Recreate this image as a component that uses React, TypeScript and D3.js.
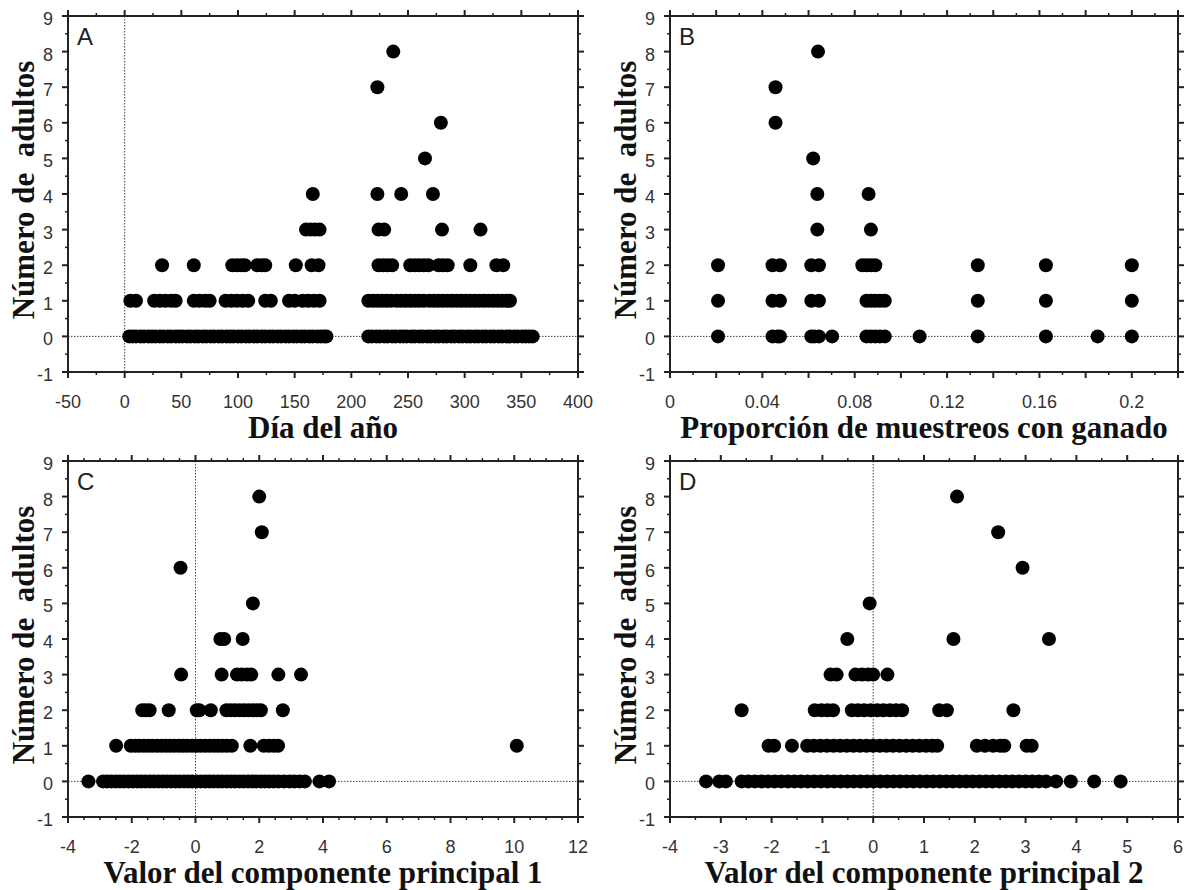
import React from 'react';
import { scaleLinear, range } from 'd3';

// Número de adultos: índice de la fila = número de adultos (0..8)
const diaDelAno: number[][] = [
  [4, 7, 10, 14, 17, 21, 24, 27, 31, 34, 38, 41, 45, 48, 51, 55, 58, 62, 65, 69, 72, 76, 79, 83, 86, 90, 93, 96, 100, 103,
    107, 110, 114, 117, 121, 124, 128, 131, 135, 138, 142, 145, 149, 152, 156, 159, 163, 166, 170, 173, 176, 178,
    215, 218, 222, 225, 229, 232, 236, 239, 243, 246, 249, 253, 256, 260, 263, 267, 270, 274, 277, 281, 284, 288, 291,
    295, 298, 302, 305, 309, 312, 316, 319, 323, 326, 330, 333, 337, 340, 344, 347, 351, 354, 357, 360],
  [5, 10, 26, 31, 36, 41, 45, 61, 66, 71, 75, 89, 94, 99, 104, 109, 124, 129, 145, 150, 157, 162, 167, 172,
    215, 219, 223, 227, 231, 235, 240, 244, 248, 252, 256, 260, 264, 269, 273, 277, 281, 285, 289, 293, 297, 301,
    305, 309, 313, 317, 321, 325, 329, 333, 337, 340],
  [33, 61, 95, 99, 103, 106, 117, 121, 124, 151, 165, 171, 224, 228, 232, 236, 252, 256, 260, 264, 268,
    277, 281, 285, 305, 328, 334],
  [160, 164, 168, 172, 224, 229, 280, 314],
  [166, 223, 244, 272],
  [265],
  [279],
  [223],
  [237],
];

const proporcionGanado: number[][] = [
  [0.0208, 0.0444, 0.0465, 0.0476, 0.0612, 0.0625, 0.0645, 0.0702, 0.0851, 0.087, 0.0889, 0.0909, 0.093,
    0.1081, 0.1333, 0.1628, 0.1852, 0.2],
  [0.0208, 0.0444, 0.0476, 0.0612, 0.0645, 0.0851, 0.087, 0.0889, 0.0909, 0.093, 0.1333, 0.1628, 0.2],
  [0.0208, 0.0444, 0.0476, 0.0612, 0.0645, 0.0833, 0.0851, 0.087, 0.0889, 0.1333, 0.1628, 0.2],
  [0.0638, 0.087],
  [0.0638, 0.086],
  [0.062],
  [0.0457],
  [0.0457],
  [0.0641],
];

const componente1: number[][] = [
  [-3.36, -2.9, -2.77, -2.64, -2.5, -2.37, -2.24, -2.1, -1.97, -1.83, -1.7, -1.57, -1.43, -1.3, -1.16, -1.03,
    -0.9, -0.76, -0.63, -0.5, -0.36, -0.23, -0.1, 0.04, 0.17, 0.31, 0.44, 0.57, 0.71, 0.84, 0.98, 1.11, 1.24,
    1.38, 1.51, 1.65, 1.78, 1.91, 2.05, 2.18, 2.31, 2.45, 2.6, 2.78, 2.95, 3.1, 3.26, 3.43, 3.89, 4.19],
  [-2.49, -2.03, -1.89, -1.76, -1.62, -1.48, -1.35, -1.21, -1.07, -0.93, -0.8, -0.66, -0.52, -0.39, -0.25,
    -0.11, 0.03, 0.16, 0.3, 0.44, 0.58, 0.71, 0.85, 0.99, 1.14, 1.72, 2.14, 2.3, 2.45, 2.59, 10.08],
  [-1.67, -1.56, -1.44, -0.84, 0.04, 0.12, 0.48, 0.97, 1.1, 1.24, 1.38, 1.52, 1.66, 1.8, 1.93, 2.05, 2.74],
  [-0.45, 0.82, 1.3, 1.45, 1.62, 1.75, 2.6, 3.31],
  [0.78, 0.9, 1.48],
  [1.8],
  [-0.47],
  [2.08],
  [2.0],
];

const componente2: number[][] = [
  [-3.29, -3.03, -2.9, -2.59, -2.46, -2.33, -2.2, -2.07, -1.94, -1.81, -1.68, -1.55, -1.42, -1.29, -1.16, -1.03,
    -0.9, -0.77, -0.64, -0.51, -0.38, -0.25, -0.12, 0.01, 0.14, 0.27, 0.4, 0.53, 0.66, 0.79, 0.92, 1.05, 1.18,
    1.31, 1.44, 1.57, 1.7, 1.83, 1.96, 2.09, 2.22, 2.35, 2.48, 2.61, 2.74, 2.87, 3.0, 3.13, 3.26, 3.4, 3.6,
    3.89, 4.35, 4.87],
  [-2.06, -1.95, -1.6, -1.3, -1.17, -1.04, -0.91, -0.78, -0.65, -0.52, -0.39, -0.26, -0.13, 0.0, 0.13, 0.26,
    0.39, 0.52, 0.65, 0.78, 0.91, 1.04, 1.16, 1.26, 2.04, 2.2, 2.36, 2.5, 2.58, 3.02, 3.12],
  [-2.59, -1.15, -1.02, -0.9, -0.79, -0.42, -0.3, -0.18, -0.05, 0.08, 0.2, 0.33, 0.45, 0.57, 1.3, 1.45, 2.76],
  [-0.84, -0.72, -0.35, -0.22, -0.1, 0.0, 0.28],
  [-0.51, 1.58, 3.46],
  [-0.07],
  [2.94],
  [2.46],
  [1.65],
];

const yTickLabels = [-1, 0, 1, 2, 3, 4, 5, 6, 7, 8, 9];
const diaTicks = [-50, 0, 50, 100, 150, 200, 250, 300, 350, 400];
const propTicks = [0, 0.04, 0.08, 0.12, 0.16, 0.2];
const comp1Ticks = [-4, -2, 0, 2, 4, 6, 8, 10, 12];
const comp2Ticks = [-4, -3, -2, -1, 0, 1, 2, 3, 4, 5, 6];

const yTitle = 'Número de  adultos';
const sans = '"Liberation Sans", Arial, Helvetica, sans-serif';
const serif = '"Liberation Serif", "Times New Roman", Times, serif';

type Box = { left: number; right: number; top: number; bottom: number };

const Panel = ({ rows, domain, box, labels, major, minor, title, letter, zeroV }: {
  rows: number[][]; domain: [number, number]; box: Box; labels: number[];
  major: number[]; minor: number[]; title: string; letter: string; zeroV: boolean;
}) => {
  const x = scaleLinear().domain(domain).range([box.left, box.right]);
  const y = scaleLinear().domain([-1, 9]).range([box.bottom, box.top]);
  const yMajor = range(-1, 9.01, 1);
  const yMinor = range(-0.5, 9, 1);
  const pts = rows.flatMap((xs, k) => xs.map((v) => ({ v, k })));
  const cx = (box.left + box.right) / 2;
  const cy = (box.top + box.bottom) / 2;
  const tick = '#222';
  return (
    <g>
      {zeroV && (
        <line x1={x(0)} x2={x(0)} y1={box.top} y2={box.bottom}
          stroke="#444" strokeWidth={1} strokeDasharray="1.5 1.5" />
      )}
      <line x1={box.left} x2={box.right} y1={y(0)} y2={y(0)}
        stroke="#444" strokeWidth={1} strokeDasharray="1.5 1.5" />
      {pts.map((d, i) => (
        <circle key={i} cx={x(d.v)} cy={y(d.k)} r={7} fill="#000" />
      ))}
      <rect x={box.left} y={box.top} width={box.right - box.left} height={box.bottom - box.top}
        fill="none" stroke={tick} strokeWidth={2} />
      {yMajor.map((t) => (
        <g key={'ym' + t}>
          <line x1={box.left - 6} x2={box.left} y1={y(t)} y2={y(t)} stroke={tick} strokeWidth={2} />
          <line x1={box.right} x2={box.right + 6} y1={y(t)} y2={y(t)} stroke={tick} strokeWidth={2} />
        </g>
      ))}
      {yMinor.map((t) => (
        <g key={'yn' + t}>
          <line x1={box.left - 3} x2={box.left} y1={y(t)} y2={y(t)} stroke={tick} strokeWidth={1.5} />
          <line x1={box.right} x2={box.right + 3} y1={y(t)} y2={y(t)} stroke={tick} strokeWidth={1.5} />
        </g>
      ))}
      {major.map((t) => (
        <g key={'xm' + t}>
          <line x1={x(t)} x2={x(t)} y1={box.top - 6} y2={box.top} stroke={tick} strokeWidth={2} />
          <line x1={x(t)} x2={x(t)} y1={box.bottom} y2={box.bottom + 6} stroke={tick} strokeWidth={2} />
        </g>
      ))}
      {minor.map((t) => (
        <g key={'xn' + t}>
          <line x1={x(t)} x2={x(t)} y1={box.top - 3} y2={box.top} stroke={tick} strokeWidth={1.5} />
          <line x1={x(t)} x2={x(t)} y1={box.bottom} y2={box.bottom + 3} stroke={tick} strokeWidth={1.5} />
        </g>
      ))}
      {yTickLabels.map((t) => (
        <text key={'yl' + t} x={box.left - 15} y={y(t) + 9} textAnchor="end"
          fontFamily={sans} fontSize={18} fill="#333">{t}</text>
      ))}
      {labels.map((t) => (
        <text key={'xl' + t} x={x(t)} y={box.bottom + 36} textAnchor="middle"
          fontFamily={sans} fontSize={18} fill="#333">{String(t)}</text>
      ))}
      <text x={box.left + 9} y={box.top + 29} fontFamily={sans} fontSize={24} fill="#222">{letter}</text>
      <text x={cx} y={box.bottom + 66} textAnchor="middle" fontFamily={serif} fontWeight="bold"
        fontSize={31} fill="#111">{title}</text>
      <text transform={`translate(${box.left - 34},${cy - 4}) rotate(-90)`} textAnchor="middle"
        fontFamily={serif} fontWeight="bold" fontSize={31} fill="#111"
        style={{ whiteSpace: 'pre' }}>{yTitle}</text>
    </g>
  );
};

export default function App() {
  const boxA = { left: 68, right: 578, top: 16, bottom: 372 };
  const boxB = { left: 670, right: 1178, top: 16, bottom: 372 };
  const boxC = { left: 68, right: 578, top: 461, bottom: 817 };
  const boxD = { left: 670, right: 1178, top: 461, bottom: 817 };
  return (
    <svg width={1186} height={890} style={{ position: 'absolute', left: 0, top: 0, background: '#fff' }}>
      <Panel rows={diaDelAno} domain={[-50, 400]} box={boxA} labels={diaTicks}
        major={range(-50, 401, 50)} minor={range(-25, 400, 50)}
        title="Día del año" letter="A" zeroV={true} />
      <Panel rows={proporcionGanado} domain={[0, 0.22]} box={boxB} labels={propTicks}
        major={range(0, 0.2201, 0.02)} minor={range(0.01, 0.22, 0.02)}
        title="Proporción de muestreos con ganado" letter="B" zeroV={false} />
      <Panel rows={componente1} domain={[-4, 12]} box={boxC} labels={comp1Ticks}
        major={range(-4, 12.01, 2)} minor={range(-3.5, 12, 0.5).filter((v) => v % 2 !== 0)}
        title="Valor del componente principal 1" letter="C" zeroV={true} />
      <Panel rows={componente2} domain={[-4, 6]} box={boxD} labels={comp2Ticks}
        major={range(-4, 6.01, 1)} minor={range(-3.5, 6, 1)}
        title="Valor del componente principal 2" letter="D" zeroV={true} />
    </svg>
  );
}
